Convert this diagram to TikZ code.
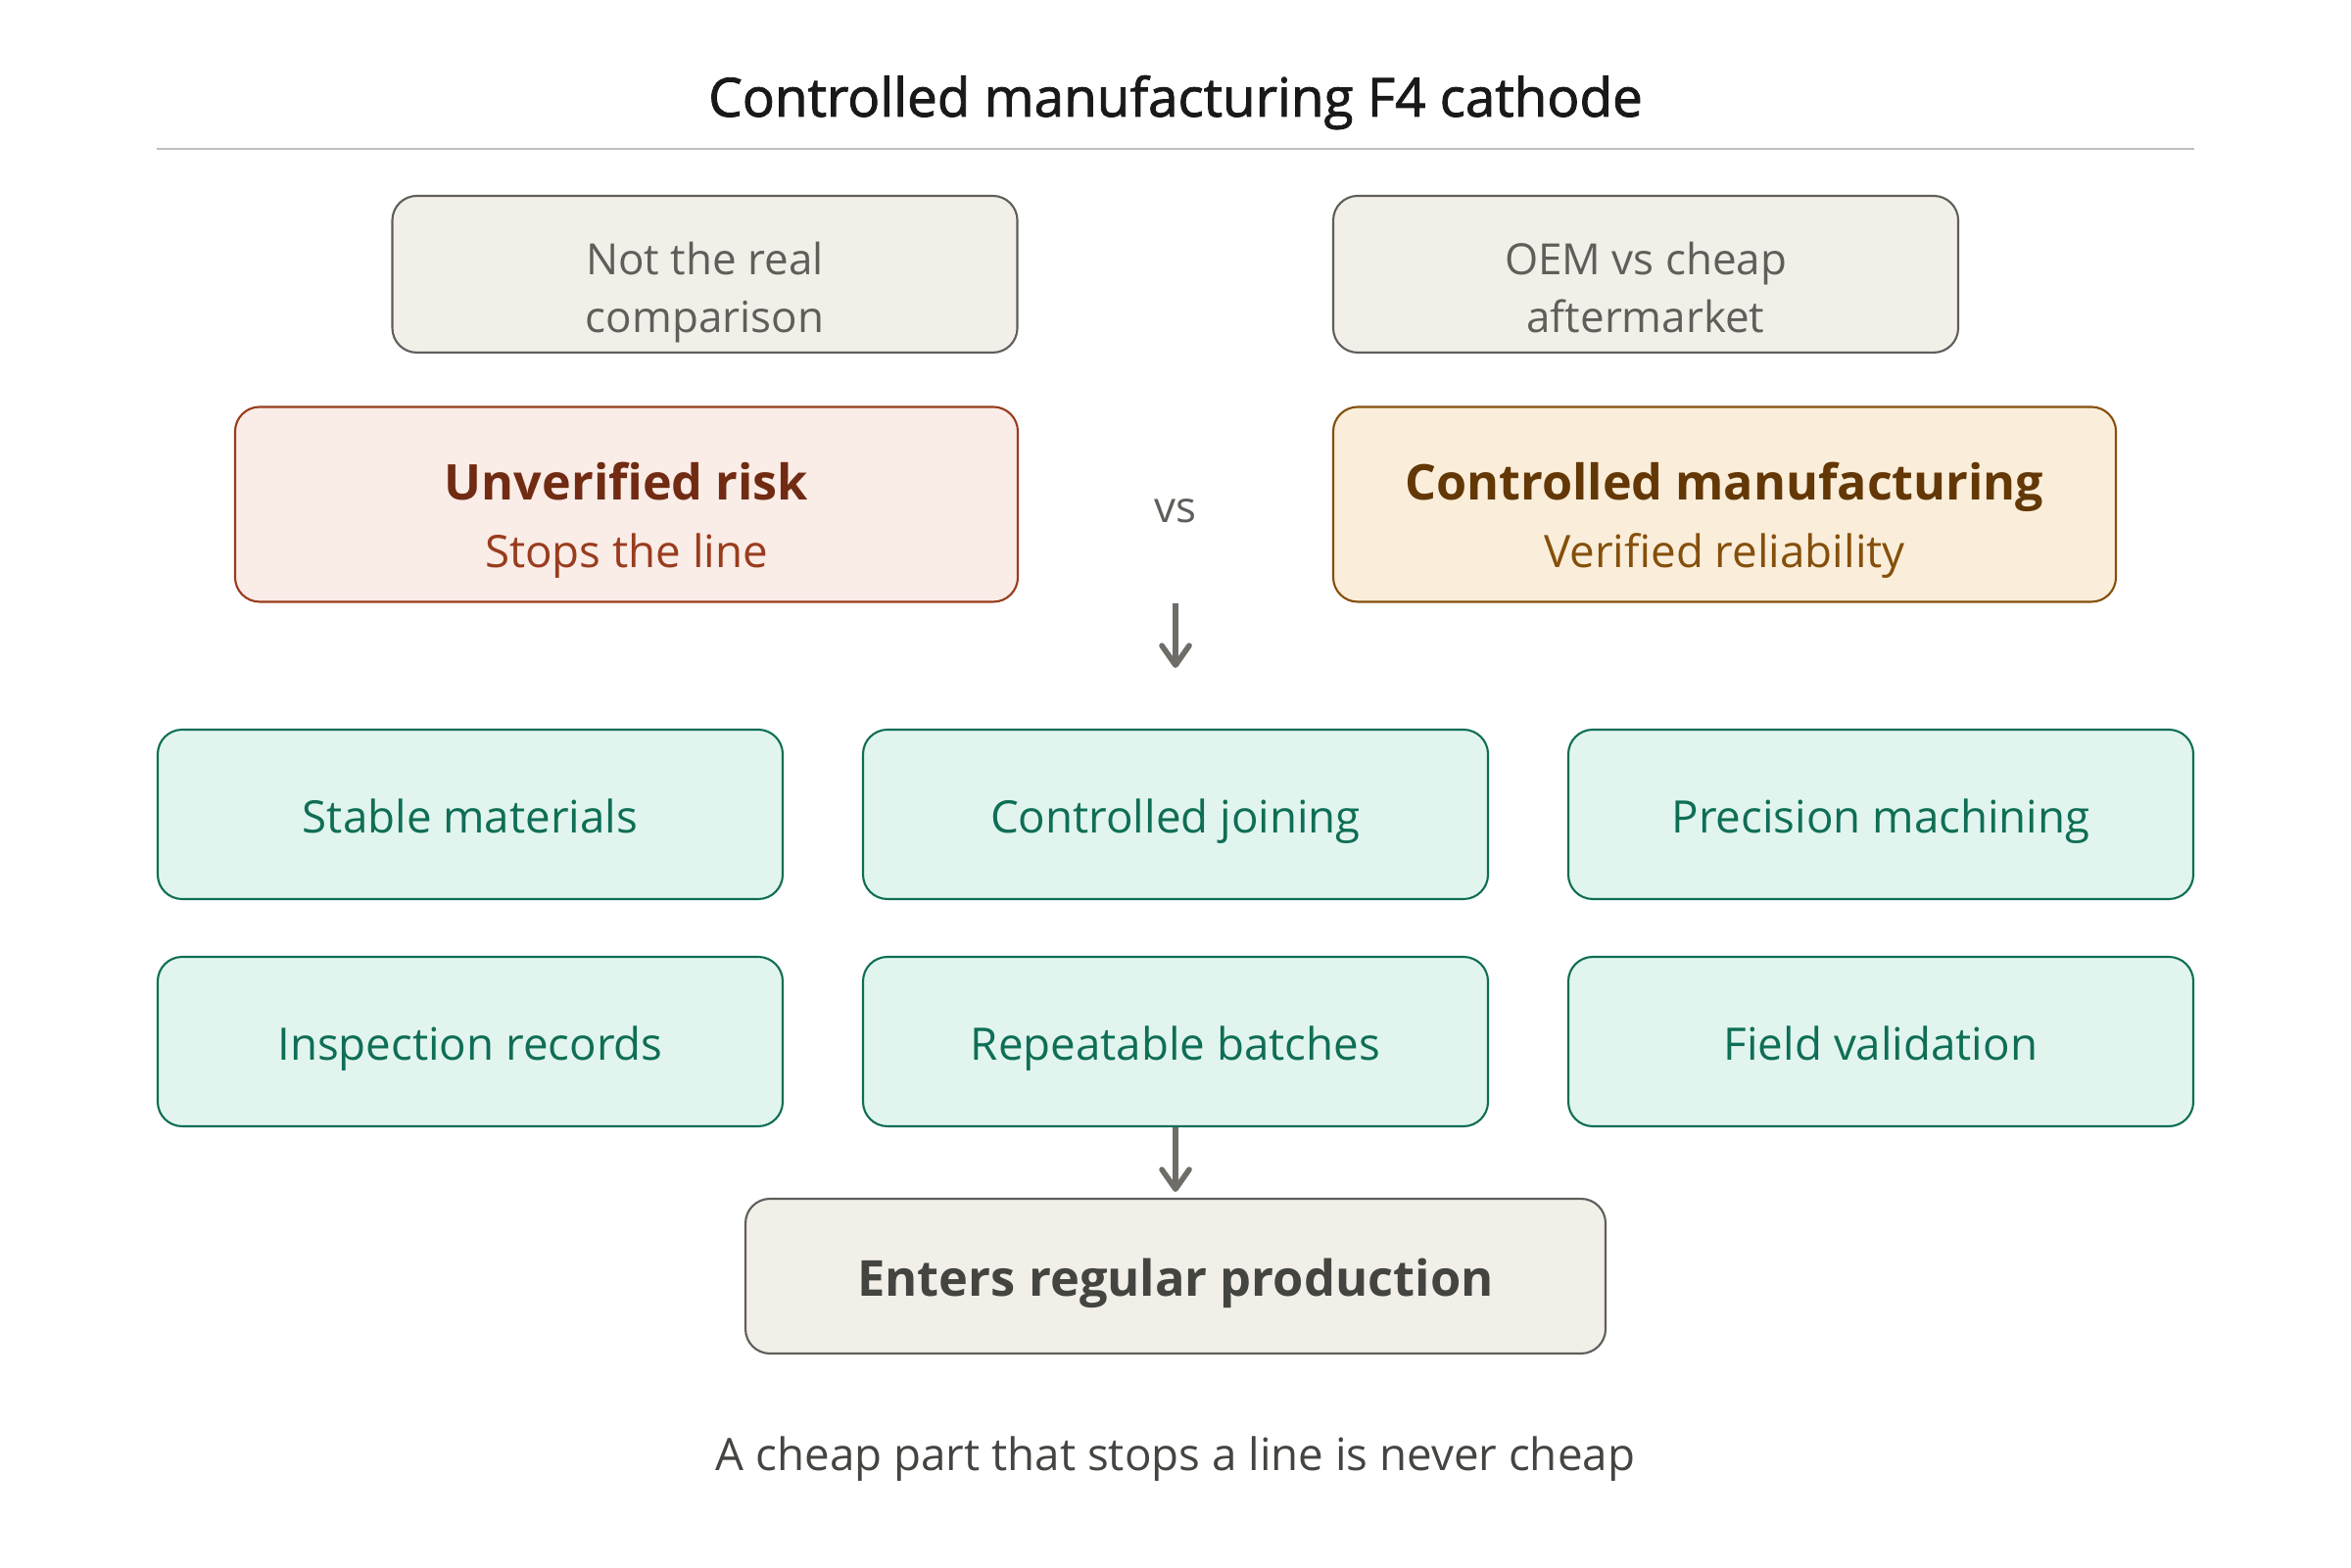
\documentclass[tikz,border=0pt]{standalone}
\usepackage{fontspec}
\setmainfont{Open Sans}
\newfontfamily\headfont[FakeBold=1.6]{Open Sans}
\usetikzlibrary{arrows.meta}

\definecolor{inkgrey}{HTML}{5F5E5A}
\definecolor{paper}{HTML}{F1EFE8}
\definecolor{darkink}{HTML}{444441}
\definecolor{riskfill}{HTML}{FAECE7}
\definecolor{riskline}{HTML}{993C1D}
\definecolor{risktext}{HTML}{712B13}
\definecolor{ctrlfill}{HTML}{FAEEDA}
\definecolor{ctrlline}{HTML}{854F0B}
\definecolor{ctrltext}{HTML}{633806}
\definecolor{stepfill}{HTML}{E1F5EE}
\definecolor{stepline}{HTML}{0F6E56}
\definecolor{arrowgrey}{HTML}{6E6D68}

\def\boxr{0.25cm}
\def\fs#1#2{\fontsize{#1}{#2}\selectfont}

\begin{document}
\begin{tikzpicture}[
    plainbox/.style={draw=inkgrey,fill=paper,rounded corners=\boxr,line width=0.6pt,
      minimum width=6.38cm,minimum height=1.6cm,align=center,text=inkgrey,
      font=\fs{12.5}{17},inner ysep=0pt,text height=1.3cm,text depth=0.1cm},
    sidebox/.style={rounded corners=\boxr,line width=0.6pt,minimum width=7.99cm,
      minimum height=1.99cm,align=center,font=\fs{13}{19.5},
      inner ysep=0pt,text height=1.39cm,text depth=0.1cm},
    stepbox/.style={draw=stepline,fill=stepfill,rounded corners=\boxr,line width=0.6pt,
      minimum width=6.38cm,minimum height=1.73cm,text=stepline,font=\fs{13}{16},
      text height=0.48cm,text depth=0.1cm},
    flow/.style={draw=arrowgrey,line width=1.6pt,
      -{Straight Barb[round,length=2mm,width=2.8mm]}}
    ]

    \useasboundingbox (0,0) rectangle (24,16);

    \node[anchor=base,text=black!90,font=\headfont\fs{15.6}{19}] (title) at (12,14.81)
      {Controlled manufacturing F4 cathode};
    \draw[draw=black!25,line width=0.6pt] (1.6,14.48) -- (22.4,14.48);

    \node[plainbox] (notreal) at (7.195,13.2) {Not the real\\comparison};
    \node[plainbox] (oemcheap) at (16.8,13.2) {OEM vs cheap\\aftermarket};

    \node[sidebox,draw=riskline,fill=riskfill] (risk) at (6.395,10.85)
      {{\color{risktext}\bfseries\fs{14.3}{19.5}Unverified risk}\\
       {\color{riskline}Stops the line}};
    \node[sidebox,draw=ctrlline,fill=ctrlfill] (ctrl) at (17.605,10.85)
      {{\color{ctrltext}\bfseries\fs{14.3}{19.5}Controlled manufacturing}\\
       {\color{ctrlline}Verified reliability}};
    \node[text=inkgrey,font=\fs{12.5}{15}] (vs) at (12,10.78) {vs};

    \coordinate (gap) at (12,9.18);
    \draw[flow] (risk.south -| vs) -- (gap);

    % six steps, two rows
    \foreach \n/\x/\y/\t in {mat/4.8/7.685/Stable materials,
      join/12/7.685/Controlled joining,
      mach/19.2/7.685/Precision machining,
      insp/4.8/5.365/Inspection records,
      batch/12/5.365/Repeatable batches,
      field/19.2/5.365/Field validation} {
      \node[stepbox] (\n) at (\x,\y) {\t};
    }

    \node[draw=inkgrey,fill=paper,rounded corners=\boxr,line width=0.6pt,
      minimum width=8.78cm,minimum height=1.58cm,text=darkink,
      text height=0.52cm,text depth=0.1cm,
      font=\bfseries\fs{14.4}{19}] (prod) at (12,2.97) {Enters regular production};
    \draw[flow,shorten >=0.06cm] (batch) -- (prod);

    \node[anchor=base,text=darkink,font=\fs{13}{16}] (motto) at (12,0.98)
      {A cheap part that stops a line is never cheap};
\end{tikzpicture}
\end{document}
